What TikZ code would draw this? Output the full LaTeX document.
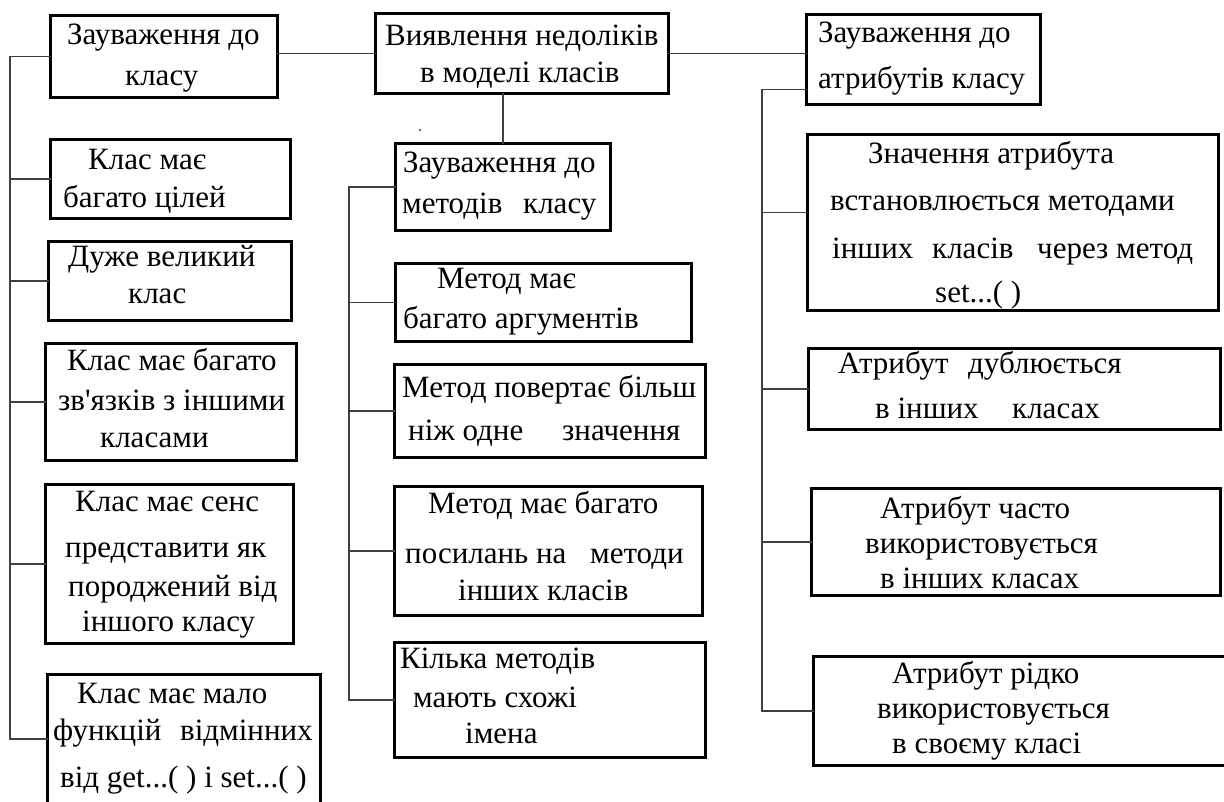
\documentclass[tikz,border=0pt]{standalone}
\usepackage{fontspec}
\setmainfont{Liberation Serif}
\usetikzlibrary{calc}

\tikzset{
  panel/.style={draw=black, line width=3.4pt, fill=white, inner sep=0pt, outer sep=0pt},
  txt/.style={anchor=base west, inner sep=0pt, font=\fontsize{31}{36}\selectfont},
  conn/.style={draw=black!75, line width=1.4pt}
}

% box: name, left, top, right, bottom (outer edges, in px units)
\newcommand\panelbox[5]{%
  \node[panel, anchor=north west,
        minimum width={(#4-#2-3.4)*1pt}, minimum height={(#5-#3-3.4)*1pt}]
        (#1) at ({#2+1.7},{#3+1.7}) {};}
% text line: name, left, vertical centre, text
\newcommand\tline[4]{\node[txt] (#1) at (#2,{#3+10}) {#4};}

\begin{document}
\begin{tikzpicture}[x=1pt,y=-1pt]
\useasboundingbox (0,0) rectangle (1224,801);
\clip (0,0) rectangle (1224,801);
\fill[white] (0,0) rectangle (1224,801);

% ---- boxes ----
\panelbox{A}{49}{14}{279}{99}
\panelbox{R}{374}{12}{670}{95}
\panelbox{H}{805}{13}{1042}{106}

\panelbox{L1}{49}{138}{292}{220}
\panelbox{L2}{47}{240}{293}{322}
\panelbox{L3}{44}{342}{298}{462}
\panelbox{L4}{44}{483}{295}{645}
\panelbox{L5}{46}{673}{322}{805}

\panelbox{M}{394}{142}{612}{232}
\panelbox{M1}{394}{262}{693}{343}
\panelbox{M2}{393}{363}{707}{459}
\panelbox{M3}{393}{485}{704}{617}
\panelbox{M4}{393}{641}{707}{759}

\panelbox{B1}{806}{133}{1220}{312}
\panelbox{B2}{807}{347}{1222}{431}
\panelbox{B3}{810}{487}{1222}{597}
\panelbox{B4}{812}{655}{1232}{767}

% ---- connectors ----
\coordinate (ls) at (10,0);
\coordinate (ms) at (349,0);
\coordinate (as) at (762,0);

\draw[conn] (R.west) -- (R.west -| A.east);
\draw[conn] (R.east) -- (R.east -| H.west);
\draw[conn] (R.south -| M.north) -- (M.north);

\draw[conn] (A.west) -- (A.west -| ls) -- (L5.west -| ls) -- (L5.west);
\foreach \n in {L1,L2,L3,L4} \draw[conn] (\n.west -| ls) -- (\n.west);

\draw[conn] (M.west) -- (M.west -| ms) -- (M4.west -| ms) -- (M4.west);
\foreach \n in {M1,M2,M3} \draw[conn] (\n.west -| ms) -- (\n.west);

\coordinate (hj) at ([yshift=-30pt]H.west);
\coordinate (bj) at ([yshift=10pt]B1.west);
\draw[conn] (hj) -- (hj -| as) -- (B4.west -| as) -- (B4.west);
\draw[conn] (bj -| as) -- (bj);
\foreach \n in {B2,B3} \draw[conn] (\n.west -| as) -- (\n.west);

% stray dot under the root box
\fill[black!60] (420,130) circle (1.3);

% ---- texts ----
\tline{A-1}{67}{34}{Зауваження до}
\tline{A-2}{125}{75}{класу}

\tline{R-1}{385}{35}{Виявлення недоліків}
\tline{R-2}{420}{72}{в моделі класів}

\tline{H-1}{818}{32}{Зауваження до}
\tline{H-2}{818}{78}{атрибутів класу}

\tline{L1-1}{88}{159}{Клас має}
\tline{L1-2}{63}{197}{багато цілей}

\tline{L2-1}{68}{256}{Дуже великий}
\tline{L2-2}{128}{293}{клас}

\tline{L3-1}{67}{360}{Клас має багато}
\tline{L3-2}{58}{400}{зв\textquotesingle язків з іншими}
\tline{L3-3}{100}{437}{класами}

\tline{L4-1}{75}{501}{Клас має сенс}
\tline{L4-2}{65}{547}{представити як}
\tline{L4-3}{68}{586}{породжений від}
\tline{L4-4}{82}{621}{іншого класу}

\tline{L5-1}{77}{693}{Клас має мало}
\tline{L5-2}{53}{730}{функцій}
\tline{L5-3}{180}{730}{відмінних}
\tline{L5-4}{60}{777}{від get...( ) і set...( )}

\tline{M-1}{403}{162}{Зауваження до}
\tline{M-2}{402}{203}{методів}
\tline{M-3}{523}{203}{класу}

\tline{M1-1}{437}{278}{Метод має}
\tline{M1-2}{403}{318}{багато аргументів}

\tline{M2-1}{402}{387}{Метод повертає більш}
\tline{M2-2}{408}{430}{ніж одне}
\tline{M2-3}{562}{430}{значення}

\tline{M3-1}{428}{503}{Метод має багато}
\tline{M3-2}{405}{553}{посилань на}
\tline{M3-3}{590}{553}{методи}
\tline{M3-4}{458}{590}{інших класів}

\tline{M4-1}{400}{658}{Кілька методів}
\tline{M4-2}{413}{697}{мають схожі}
\tline{M4-3}{465}{733}{імена}

\tline{B1-1}{868}{153}{Значення атрибута}
\tline{B1-2}{830}{200}{встановлюється методами}
\tline{B1-3}{832}{248}{інших}
\tline{B1-4}{932}{248}{класів}
\tline{B1-5}{1037}{248}{через метод}
\tline{B1-6}{935}{292}{set...( )}

\tline{B2-1}{838}{363}{Атрибут}
\tline{B2-2}{968}{363}{дублюється}
\tline{B2-3}{875}{408}{в інших}
\tline{B2-4}{1012}{408}{класах}

\tline{B3-1}{880}{508}{Атрибут часто}
\tline{B3-2}{865}{543}{використовується}
\tline{B3-3}{880}{578}{в інших класах}

\tline{B4-1}{892}{673}{Атрибут рідко}
\tline{B4-2}{877}{708}{використовується}
\tline{B4-3}{892}{743}{в своєму класі}
\end{tikzpicture}
\end{document}
